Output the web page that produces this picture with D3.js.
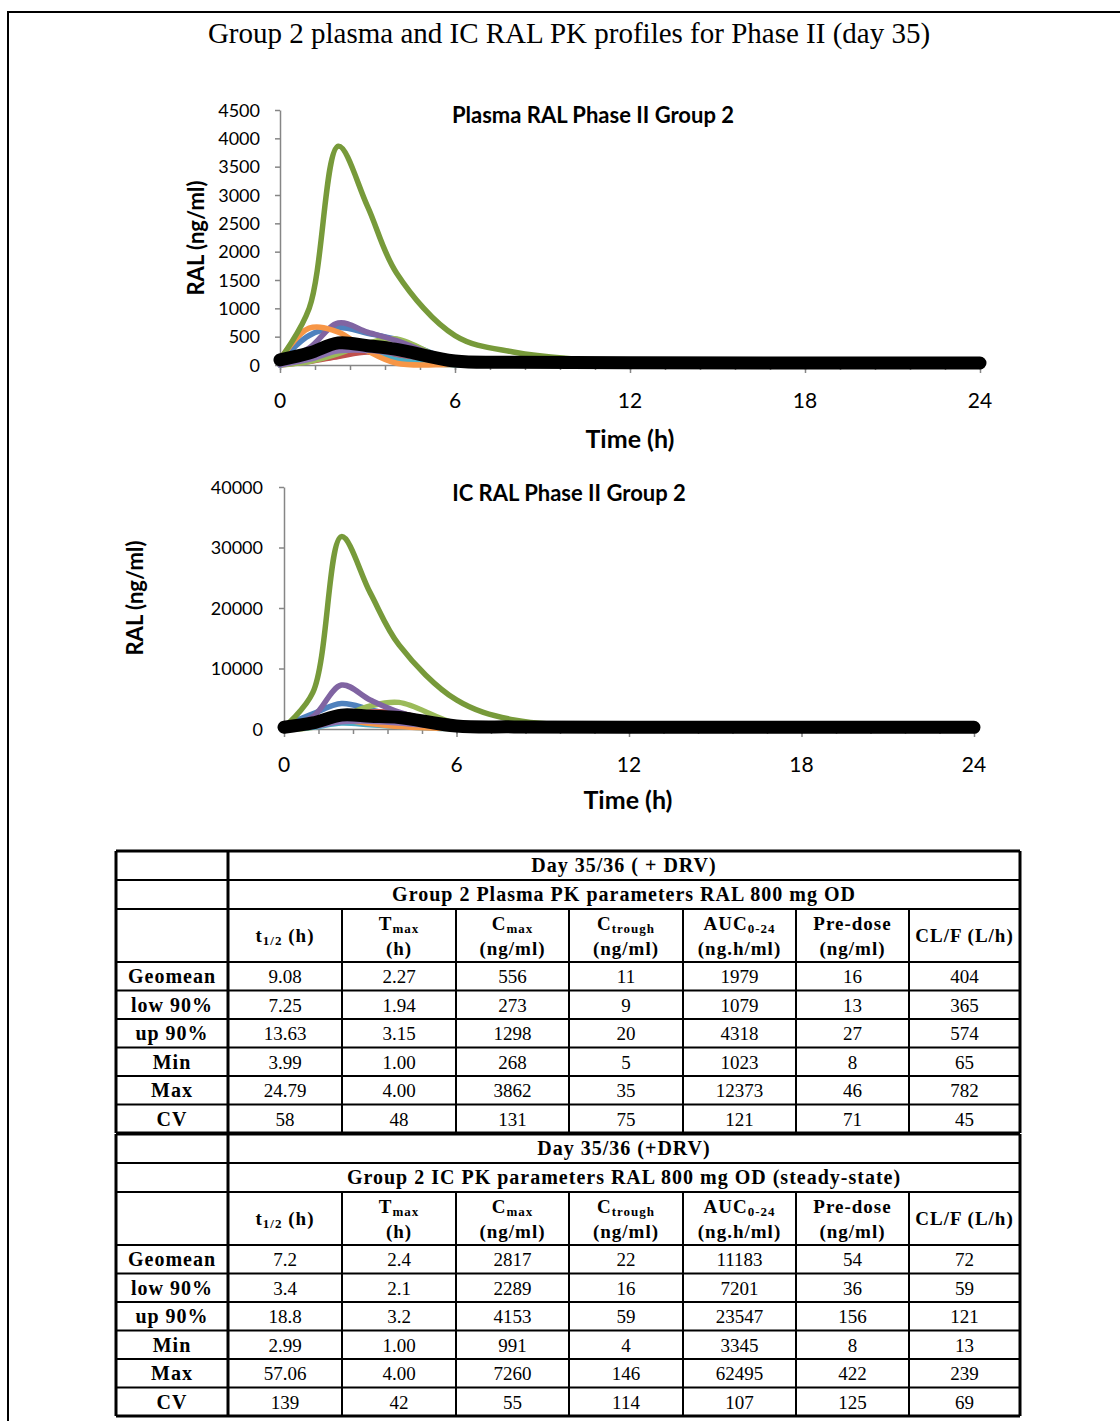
<!DOCTYPE html>
<html>
<head>
<meta charset="utf-8">
<style>
  body { margin: 0; background: #ffffff; }
  svg { display: block; }
  .serif { font-family: "Liberation Serif", "Times New Roman", serif; }
  .sans { font-family: Lato, "Open Sans", sans-serif; }
  .bold { font-weight: bold; letter-spacing: 1px; }
</style>
<script src="https://d3js.org/d3.v7.min.js"></script>
</head>
<body>
<svg id="page" width="1120" height="1421"></svg>
<script>
  // sampling times (h)
  const times = [0, 1, 2, 3, 4, 6, 8, 12, 24];

  // plasma RAL (ng/ml), one array per subject
  const plasmaBlue    = [50, 520, 660, 560, 450, 80, 30, 15, 10];
  const plasmaRed     = [0, 60, 150, 230, 150, 20, 10, 5, 2];
  const plasmaLtGreen = [0, 60, 200, 380, 460, 30, 10, 5, 2];
  const plasmaPurple  = [50, 300, 740, 580, 430, 60, 20, 10, 5];
  const plasmaAqua    = [0, 150, 350, 250, 90, 0, 0, 0, 0];
  const plasmaOrange  = [100, 650, 580, 250, 30, 10, 5, 5, 2];
  const plasmaPurple2 = [0, 100, 250, 260, 200, 40, 10, 5, 2];
  const plasmaGreen   = [100, 1000, 3862, 2800, 1620, 520, 230, 55, 30];
  const plasmaGeomean = [90, 210, 390, 340, 275, 70, 50, 40, 35];

  // intracellular RAL (ng/ml)
  const icBlue    = [500, 2500, 4200, 3200, 2000, 400, 150, 80, 40];
  const icRed     = [0, 500, 2000, 2800, 2600, 500, 150, 80, 40];
  const icLtGreen = [0, 300, 2000, 3800, 4400, 900, 200, 100, 50];
  const icPurple  = [300, 2000, 7260, 4800, 2800, 500, 200, 100, 50];
  const icAqua    = [0, 300, 1000, 700, 400, 0, 0, 0, 0];
  const icOrange  = [100, 1200, 1500, 900, 400, 50, 20, 10, 5];
  const icPurple2 = [0, 400, 1200, 1300, 1000, 200, 60, 30, 10];
  const icGreen   = [300, 6000, 31800, 22500, 13900, 4800, 1500, 600, 200];
  const icGeomean = [300, 1000, 2300, 2100, 1900, 500, 350, 300, 280];

  const seriesColors = ["#4F81BD", "#C0504D", "#9BBB59", "#8064A2", "#4BACC6", "#F79646", "#8C72B0", "#779A3A"];

  const yTicksPlasma = [0, 500, 1000, 1500, 2000, 2500, 3000, 3500, 4000, 4500];
  const yTicksIC = [0, 10000, 20000, 30000, 40000];
  const xLabels = [0, 6, 12, 18, 24];

  const colHeads = [
    ["t", "1/2", " (h)", null],
    ["T", "max", "", "(h)"],
    ["C", "max", "", "(ng/ml)"],
    ["C", "trough", "", "(ng/ml)"],
    ["AUC", "0-24", "", "(ng.h/ml)"],
    ["Pre-dose", "", "", "(ng/ml)"],
    ["CL/F (L/h)", "", "", null]
  ];
  const rowLabels = ["Geomean", "low 90%", "up 90%", "Min", "Max", "CV"];
  const plasmaTable = [
    ["9.08", "2.27", "556", "11", "1979", "16", "404"],
    ["7.25", "1.94", "273", "9", "1079", "13", "365"],
    ["13.63", "3.15", "1298", "20", "4318", "27", "574"],
    ["3.99", "1.00", "268", "5", "1023", "8", "65"],
    ["24.79", "4.00", "3862", "35", "12373", "46", "782"],
    ["58", "48", "131", "75", "121", "71", "45"]
  ];
  const icTable = [
    ["7.2", "2.4", "2817", "22", "11183", "54", "72"],
    ["3.4", "2.1", "2289", "16", "7201", "36", "59"],
    ["18.8", "3.2", "4153", "59", "23547", "156", "121"],
    ["2.99", "1.00", "991", "4", "3345", "8", "13"],
    ["57.06", "4.00", "7260", "146", "62495", "422", "239"],
    ["139", "42", "55", "114", "107", "125", "69"]
  ];

  const svg = d3.select("#page");

  // page frame
  svg.append("rect").attr("x", 8).attr("y", 12).attr("width", 1130).attr("height", 1430)
    .attr("fill", "none").attr("stroke", "#000").attr("stroke-width", 2);

  svg.append("text").attr("class", "serif")
    .attr("x", 569).attr("y", 43).attr("text-anchor", "middle")
    .attr("font-size", 29).text("Group 2 plasma and IC RAL PK profiles for Phase II (day 35)");

  function drawPlot(cfg) {
    let g = svg.append("g");
    let x = d3.scaleLinear().domain([0, 24]).range(cfg.xRange);
    let y = d3.scaleLinear().domain([0, cfg.yMax]).range(cfg.yRange);

    // y axis
    let yAxis = g.append("g").attr("transform", `translate(${cfg.xRange[0]},0)`)
      .call(d3.axisLeft(y).tickValues(cfg.yTicks).tickSize(5).tickSizeOuter(0).tickFormat(""));
    yAxis.selectAll("path,line").attr("stroke", "#868686").attr("stroke-width", 1.5);
    g.selectAll(".ylab").data(cfg.yTicks).enter().append("text")
      .attr("class", "sans").attr("x", cfg.yLabelX).attr("y", d => y(d) + 6.5)
      .attr("text-anchor", "end").attr("font-size", 18).attr("fill", "#000").text(d => d);

    // x axis, minor ticks every 1.2 h
    let xAxis = g.append("g").attr("transform", `translate(0,${cfg.yRange[0]})`)
      .call(d3.axisBottom(x).tickValues(d3.range(0, 24.01, 1.2)).tickSize(5).tickSizeOuter(0).tickFormat(""));
    xAxis.selectAll("path,line").attr("stroke", "#868686").attr("stroke-width", 1.5);
    g.append("g").attr("transform", `translate(0,${cfg.yRange[0]})`)
      .call(d3.axisBottom(x).tickValues(xLabels).tickSize(8).tickFormat(""))
      .call(a => a.select(".domain").remove())
      .selectAll("line").attr("stroke", "#868686").attr("stroke-width", 1.5);
    g.selectAll(".xlab").data(xLabels).enter().append("text")
      .attr("class", "sans").attr("x", d => x(d)).attr("y", cfg.xLabelY)
      .attr("text-anchor", "middle").attr("font-size", 21).text(d => d);

    // titles
    g.append("text").attr("class", "sans").attr("x", cfg.titleX).attr("y", cfg.titleY)
      .attr("text-anchor", "middle").attr("font-size", 22).attr("font-weight", "bold").text(cfg.title);
    g.append("text").attr("class", "sans").attr("x", cfg.xTitleX).attr("y", cfg.xTitleY)
      .attr("text-anchor", "middle").attr("font-size", 25).attr("font-weight", "bold").text("Time (h)");
    g.append("text").attr("class", "sans")
      .attr("transform", `translate(${cfg.yTitleX},${cfg.yTitleY}) rotate(-90)`)
      .attr("text-anchor", "middle").attr("font-size", 22).attr("font-weight", "bold").text("RAL (ng/ml)");

    let line = d3.line().x((d, i) => x(times[i])).y(d => y(d)).curve(d3.curveCatmullRom.alpha(0.5));
    cfg.series.forEach((s, i) => {
      g.append("path").attr("d", line(s)).attr("fill", "none")
        .attr("stroke", seriesColors[i]).attr("stroke-width", 5.5)
        .attr("stroke-linecap", "round").attr("stroke-linejoin", "round");
    });
    g.append("path").attr("d", line(cfg.geomean)).attr("fill", "none")
      .attr("stroke", "#000").attr("stroke-width", 13)
      .attr("stroke-linecap", "round").attr("stroke-linejoin", "round");
  }

  drawPlot({
    xRange: [280, 980], yRange: [365, 110], yMax: 4500, yTicks: yTicksPlasma,
    yLabelX: 260, xLabelY: 408, title: "Plasma RAL Phase II Group 2", titleX: 593, titleY: 123,
    xTitleX: 630, xTitleY: 448, yTitleX: 204, yTitleY: 238,
    series: [plasmaBlue, plasmaRed, plasmaLtGreen, plasmaPurple, plasmaAqua, plasmaOrange, plasmaPurple2, plasmaGreen],
    geomean: plasmaGeomean
  });
  drawPlot({
    xRange: [284, 974], yRange: [729, 487], yMax: 40000, yTicks: yTicksIC,
    yLabelX: 263, xLabelY: 772, title: "IC RAL Phase II Group 2", titleX: 569, titleY: 501,
    xTitleX: 628, xTitleY: 809, yTitleX: 143, yTitleY: 598,
    series: [icBlue, icRed, icLtGreen, icPurple, icAqua, icOrange, icPurple2, icGreen],
    geomean: icGeomean
  });

  // tables
  const colX = [116, 228, 342, 456, 569, 683, 796, 909, 1020];

  function drawTable(top, dayText, groupText, rows) {
    let g = svg.append("g").attr("class", "serif");
    let rowH = [29, 29, 53].concat(d3.range(6).map(() => 28.5));
    let rowY = [top];
    rowH.forEach(h => rowY.push(rowY[rowY.length - 1] + h));
    let bottom = rowY[rowY.length - 1];

    // horizontal lines
    rowY.forEach((yy, i) => {
      g.append("line").attr("x1", colX[0]).attr("x2", colX[8]).attr("y1", yy).attr("y2", yy)
        .attr("stroke", "#000").attr("stroke-width", (i === 0 || i === rowY.length - 1) ? 3 : 2);
    });
    // vertical lines
    colX.forEach((xx, i) => {
      let y1 = (i === 0 || i === 1 || i === 8) ? top : rowY[2];
      g.append("line").attr("x1", xx).attr("x2", xx).attr("y1", y1).attr("y2", bottom)
        .attr("stroke", "#000").attr("stroke-width", (i <= 1 || i === 8) ? 3 : 2);
    });

    let mid = (colX[1] + colX[8]) / 2;
    g.append("text").attr("class", "bold").attr("x", mid).attr("y", rowY[0] + 21).attr("text-anchor", "middle")
      .attr("font-size", 20).text(dayText);
    g.append("text").attr("class", "bold").attr("x", mid).attr("y", rowY[1] + 21).attr("text-anchor", "middle")
      .attr("font-size", 20).text(groupText);

    colHeads.forEach((h, i) => {
      let cx = (colX[i + 1] + colX[i + 2]) / 2;
      let yy = h[3] === null ? rowY[2] + 33 : rowY[2] + 21;
      let t = g.append("text").attr("class", "bold").attr("x", cx).attr("y", yy).attr("text-anchor", "middle")
        .attr("font-size", 19);
      t.append("tspan").text(h[0]);
      if (h[1]) t.append("tspan").attr("font-size", 13).attr("dy", 3).text(h[1]);
      if (h[2]) t.append("tspan").attr("dy", -3).text(h[2]);
      if (h[3]) {
        g.append("text").attr("class", "bold").attr("x", cx).attr("y", rowY[2] + 46).attr("text-anchor", "middle")
          .attr("font-size", 19).text(h[3]);
      }
    });

    rows.forEach((r, ri) => {
      let yy = rowY[3 + ri] + 21;
      g.append("text").attr("class", "bold").attr("x", (colX[0] + colX[1]) / 2).attr("y", yy).attr("text-anchor", "middle")
        .attr("font-size", 20).text(rowLabels[ri]);
      r.forEach((v, ci) => {
        g.append("text").attr("x", (colX[ci + 1] + colX[ci + 2]) / 2).attr("y", yy)
          .attr("text-anchor", "middle").attr("font-size", 19).text(v);
      });
    });
  }

  drawTable(851, "Day 35/36 ( + DRV)", "Group 2 Plasma PK parameters RAL 800 mg OD", plasmaTable);
  drawTable(1134, "Day 35/36 (+DRV)", "Group 2 IC PK parameters RAL 800 mg OD (steady-state)", icTable);
</script>
</body>
</html>
